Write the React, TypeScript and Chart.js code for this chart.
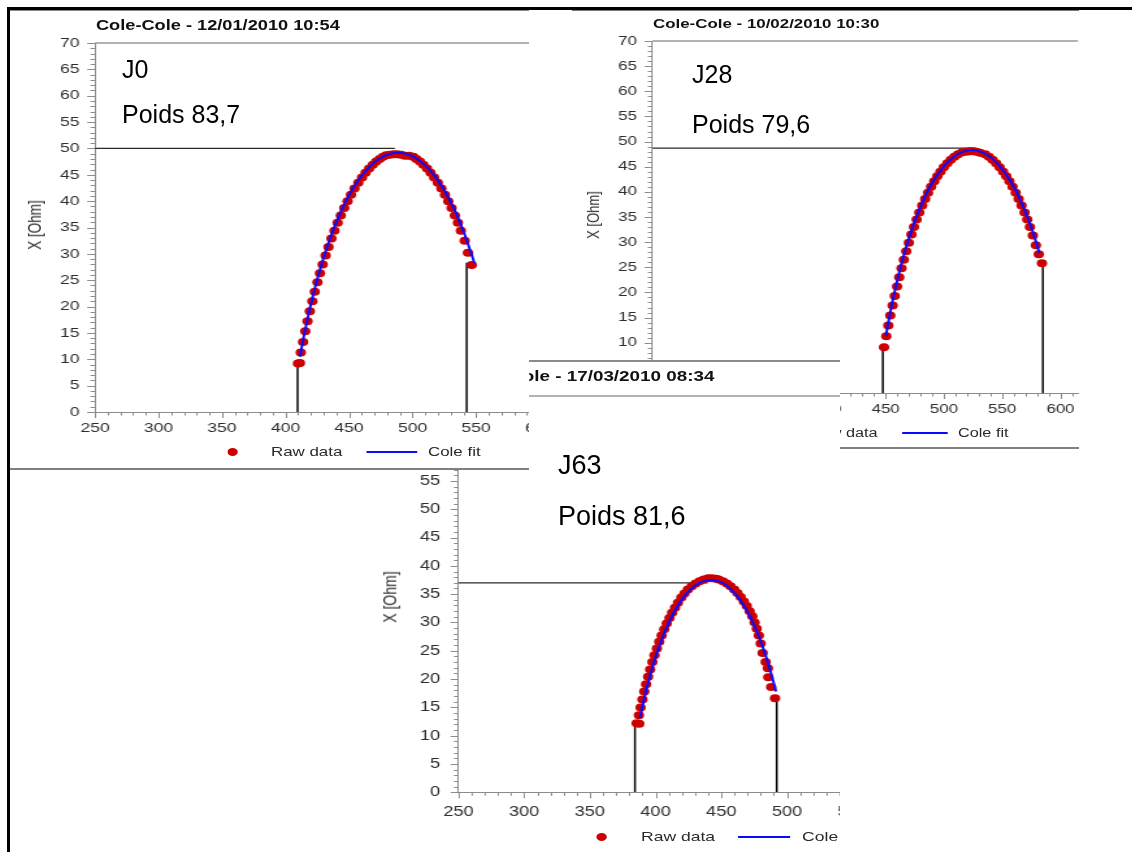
import React, { useEffect, useRef } from "react";
import { Chart, registerables } from "chart.js";

Chart.register(...registerables);

// ---------- shared axis settings ----------
const STRETCH = 1.3; // the screenshots are stretched horizontally
const FONT = "'Liberation Sans', Arial, Helvetica, sans-serif";
const X_MIN = 250;
const X_MAX = 615;
const Y_MIN = 0;
const Y_MAX = 70;
const X_MINOR = 10;
const Y_MINOR = 1;
const xTickLabels = [250, 300, 350, 400, 450, 500, 550, 600];
const yTickLabels = [0, 5, 10, 15, 20, 25, 30, 35, 40, 45, 50, 55, 60, 65, 70];
const seriesNames = ["Raw data", "Cole fit"];

// ---------- J0 : 12/01/2010 ----------
const j0RawR = [409.8, 411.3, 412.0, 413.8, 415.5, 417.3, 419.1, 421.1, 423.0, 425.1, 427.1, 429.2, 431.5, 433.8, 436.1, 438.5, 441.0, 443.5, 446.2, 448.8, 451.5, 454.3, 457.3, 460.2, 463.0, 465.8, 468.7, 471.4, 474.1, 476.7, 479.2, 482.0, 485.0, 488.0, 491.0, 494.0, 497.3, 500.5, 503.0, 505.8, 508.5, 511.4, 514.2, 517.0, 519.9, 522.7, 525.5, 528.1, 530.7, 533.3, 535.7, 538.0, 541.0, 543.6, 546.6];
const j0RawX = [9.2, 9.3, 11.3, 13.3, 15.3, 17.2, 19.1, 21.0, 22.8, 24.6, 26.3, 28.0, 29.7, 31.3, 32.9, 34.4, 35.9, 37.3, 38.7, 40.0, 41.2, 42.4, 43.5, 44.5, 45.4, 46.2, 46.9, 47.5, 48.0, 48.4, 48.7, 48.8, 48.9, 48.9, 48.8, 48.6, 48.6, 48.4, 48.0, 47.5, 46.9, 46.2, 45.4, 44.5, 43.5, 42.4, 41.2, 40.0, 38.7, 37.3, 35.9, 34.4, 32.5, 30.2, 27.9];
const j0FitR = [411.4, 414.1, 417.6, 421.5, 425.9, 430.9, 436.7, 443.5, 449.7, 457.4, 464.0, 470.6, 477.0, 482.4, 488.6, 494.8, 500.2, 506.6, 513.2, 519.8, 527.5, 533.7, 540.5, 546.3, 548.7];
const j0FitX = [10.5, 14, 18, 22, 26, 30, 34, 38, 41, 44, 46, 47.5, 48.5, 49.0, 49.2, 49.0, 48.5, 47.5, 46, 44, 41, 38, 34, 30, 28.2];
const j0MarkR = [409.5, 542.6];
const j0MarkX = [9.3, 28.3];
const j0PeakX = 50;
const j0PeakREnd = 486;

// ---------- J28 : 10/02/2010 ----------
const j28RawR = [448.6, 450.6, 452.3, 454.0, 456.0, 457.8, 459.8, 461.7, 463.6, 465.6, 467.7, 469.9, 472.1, 474.3, 476.6, 478.9, 481.4, 483.9, 486.4, 489.0, 491.7, 494.3, 497.0, 499.9, 502.9, 505.9, 509.0, 512.2, 515.6, 519.0, 522.0, 525.0, 528.0, 531.0, 535.4, 538.6, 541.7, 544.8, 547.8, 550.8, 553.5, 556.2, 558.9, 561.6, 564.1, 566.6, 569.2, 571.5, 573.8, 576.3, 578.9, 581.4, 584.1];
const j28RawX = [9.1, 11.3, 13.4, 15.4, 17.4, 19.3, 21.2, 23.0, 24.8, 26.5, 28.2, 29.9, 31.5, 33.0, 34.5, 35.9, 37.3, 38.6, 39.8, 41.0, 42.1, 43.1, 44.0, 44.9, 45.7, 46.4, 47.0, 47.5, 47.9, 48.0, 48.1, 48.1, 48.0, 47.8, 47.5, 47.0, 46.4, 45.7, 44.9, 44.0, 43.1, 42.1, 41.0, 39.8, 38.6, 37.3, 35.9, 34.5, 33.0, 31.3, 29.4, 27.6, 25.8];
const j28FitR = [450.2, 453.1, 456.6, 460.6, 465.1, 470.3, 476.3, 483.7, 490.5, 499.6, 508.6, 516.6, 524.0, 531.4, 539.4, 548.4, 557.5, 564.3, 571.7, 577.7, 581.9];
const j28FitX = [11.3, 15, 19, 23, 27, 31, 35, 39, 42, 45, 47, 48, 48.3, 48, 47, 45, 42, 39, 35, 31, 27.8];
const j28MarkR = [447.6, 584.9];
const j28MarkX = [9.1, 25.8];
const j28PeakX = 48.7;
const j28PeakREnd = 527;

// ---------- J63 : 17/03/2010 ----------
const j63RawR = [385.6, 387.6, 387.3, 388.6, 390.0, 391.4, 392.8, 394.3, 395.9, 397.6, 399.2, 401.0, 402.8, 404.6, 406.6, 408.5, 410.6, 412.6, 414.8, 417.0, 419.6, 422.0, 424.6, 427.5, 430.5, 433.5, 436.7, 440.0, 443.0, 446.0, 448.0, 451.2, 454.2, 457.0, 459.8, 462.3, 464.8, 467.2, 469.4, 471.6, 473.6, 475.4, 477.0, 478.6, 480.0, 481.5, 483.8, 485.5, 485.8, 488.0, 490.9];
const j63RawX = [12.2, 12.1, 13.6, 15.0, 16.4, 17.8, 19.1, 20.4, 21.7, 23.0, 24.2, 25.4, 26.6, 27.7, 28.8, 29.8, 30.8, 31.7, 32.6, 33.5, 34.4, 35.1, 35.8, 36.4, 36.9, 37.3, 37.6, 37.8, 37.8, 37.7, 37.6, 37.3, 36.9, 36.4, 35.8, 35.2, 34.5, 33.7, 32.9, 32.0, 31.1, 30.0, 28.9, 27.7, 26.3, 24.6, 23.0, 21.9, 20.3, 18.6, 16.6];
const j63FitR = [388.1, 390.8, 393.9, 397.5, 401.6, 406.4, 412.2, 417.0, 423.3, 430.1, 435.5, 442.1, 448.7, 454.1, 460.9, 467.2, 472.0, 477.9, 482.6, 486.7, 489.7, 491.6];
const j63FitX = [13.1, 16, 19, 22, 25, 28, 31, 33, 35, 36.5, 37.2, 37.5, 37.2, 36.5, 35, 33, 31, 28, 25, 22, 19.5, 17.8];
const j63MarkR = [384.3, 492.2];
const j63MarkX = [12.0, 16.3];
const j63PeakX = 37.0;
const j63PeakREnd = 439.5;

const toPts = (r: number[], x: number[]) => r.map((v, i) => ({ x: v, y: x[i] }));

const minorTicks = {
  id: "minorTicks",
  afterDatasetsDraw(chart: any) {
    const { ctx, chartArea: a, scales } = chart;
    const xs = scales.x;
    const ys = scales.y;
    ctx.save();
    ctx.strokeStyle = "#8c8c8c";
    ctx.lineWidth = 1;
    ctx.beginPath();
    for (let v = Y_MIN; v <= Y_MAX + 1e-6; v += Y_MINOR) {
      const p = Math.round(ys.getPixelForValue(v)) + 0.5;
      const len = yTickLabels.includes(v) ? 6 : 3.5;
      ctx.moveTo(a.left, p);
      ctx.lineTo(a.left - len, p);
    }
    for (let v = X_MIN; v <= X_MAX + 1e-6; v += X_MINOR) {
      const p = Math.round(xs.getPixelForValue(v)) + 0.5;
      const len = xTickLabels.includes(v) ? 6 : 3.5;
      ctx.moveTo(p, a.bottom);
      ctx.lineTo(p, a.bottom + len);
    }
    ctx.stroke();
    ctx.strokeStyle = "#9a9a9a";
    ctx.lineWidth = 1.5;
    ctx.beginPath();
    ctx.moveTo(a.left, a.top);
    ctx.lineTo(a.right, a.top);
    ctx.stroke();
    ctx.restore();
  },
};

interface Spec {
  left: number; top: number; width: number; height: number; z: number;
  canvasW: number; canvasH: number;
  padTop: number; padRight: number; yAxisW: number; xAxisH: number;
  tickFont: number; yPad: number; xPad: number;
  title: string; titleFont: number; titleX: number; titleY: number;
  yTitleX: number; yTitleY: number; yTitleFont: number;
  legendY: number; legendDotX: number; legendRawX: number; legendLine: [number, number]; legendFitX: number; legendFont: number;
  notes: [string, string]; noteLeft: number; noteTops: [number, number]; noteFont: number;
  borders: { y: number; h: number; color: string }[];
  rawR: number[]; rawX: number[]; fitR: number[]; fitX: number[];
  markR: number[]; markX: number[]; peakX: number; peakREnd: number;
}

function buildConfig(s: Spec): any {
  const line = (data: any[], color: string, w: number, order: number) => ({
    label: "",
    data,
    showLine: true,
    borderColor: color,
    backgroundColor: color,
    borderWidth: w,
    pointRadius: 0,
    order,
  });
  return {
    type: "scatter",
    data: {
      datasets: [
        {
          label: seriesNames[1],
          data: toPts(s.fitR, s.fitX),
          showLine: true,
          borderColor: "#0a0aff",
          borderWidth: 2,
          pointRadius: 0,
          tension: 0.3,
          order: 0,
        },
        {
          label: seriesNames[0],
          data: toPts(s.rawR, s.rawX),
          backgroundColor: "#cc0000",
          borderColor: "#cc0000",
          borderWidth: 0,
          pointRadius: 4,
          pointStyle: "circle",
          order: 1,
        },
        line([{ x: s.markR[0], y: Y_MIN }, { x: s.markR[0], y: s.markX[0] }], "#000000", 1.5, 2),
        line([{ x: s.markR[1], y: Y_MIN }, { x: s.markR[1], y: s.markX[1] }], "#000000", 1.5, 2),
        line([{ x: X_MIN, y: s.peakX }, { x: s.peakREnd, y: s.peakX }], "#2a2a2a", 1.3, 2),
      ],
    },
    options: {
      animation: false,
      responsive: false,
      maintainAspectRatio: false,
      events: [],
      layout: { padding: { left: 0, top: s.padTop, right: s.padRight, bottom: 0 } },
      plugins: { legend: { display: false }, title: { display: false }, tooltip: { enabled: false } },
      scales: {
        x: {
          type: "linear",
          min: X_MIN,
          max: X_MAX,
          afterFit: (sc: any) => { sc.height = s.xAxisH; },
          afterBuildTicks: (sc: any) => { sc.ticks = xTickLabels.map((v) => ({ value: v })); },
          grid: { display: false, drawTicks: false, tickLength: 0 },
          border: { display: true, color: "#8c8c8c", width: 1 },
          ticks: {
            autoSkip: false,
            maxRotation: 0,
            padding: s.xPad,
            color: "#2e2e2e",
            font: { family: FONT, size: s.tickFont },
            callback: (v: number) => String(v),
          },
        },
        y: {
          type: "linear",
          min: Y_MIN,
          max: Y_MAX,
          afterFit: (sc: any) => { sc.width = s.yAxisW; },
          afterBuildTicks: (sc: any) => { sc.ticks = yTickLabels.map((v) => ({ value: v })); },
          grid: { display: false, drawTicks: false, tickLength: 0 },
          border: { display: true, color: "#8c8c8c", width: 1 },
          ticks: {
            autoSkip: false,
            padding: s.yPad,
            color: "#2e2e2e",
            font: { family: FONT, size: s.tickFont },
            callback: (v: number) => String(v),
          },
        },
      },
    },
    plugins: [minorTicks],
  };
}

function Panel({ s }: { s: Spec }) {
  const ref = useRef<HTMLCanvasElement>(null);
  useEffect(() => {
    const chart = new Chart(ref.current as HTMLCanvasElement, buildConfig(s));
    return () => chart.destroy();
  }, []);
  const cw = Math.round(s.canvasW);
  const ch = Math.round(s.canvasH);
  const text = (t: string, left: number, cy: number, size: number, extra: any = {}) => (
    <div
      style={{
        position: "absolute", left, top: cy - size * 0.6, fontSize: size,
        lineHeight: `${size * 1.2}px`, fontFamily: FONT, whiteSpace: "nowrap", color: "#2a2a2a", ...extra,
      }}
    >
      {t}
    </div>
  );
  return (
    <div
      style={{
        position: "absolute", left: s.left, top: s.top, width: s.width, height: s.height,
        overflow: "hidden", background: "#fff", zIndex: s.z,
      }}
    >
      <div
        style={{
          position: "absolute", left: 0, top: 0, width: cw, height: s.height,
          transform: `scaleX(${STRETCH})`, transformOrigin: "0 0",
        }}
      >
        <canvas ref={ref} width={cw} height={ch} style={{ position: "absolute", left: 0, top: 0, width: cw, height: ch, display: "block" }} />
        {text(s.title, s.titleX, s.titleY, s.titleFont, { fontWeight: "bold", color: "#111" })}
        <div
          style={{
            position: "absolute", left: s.yTitleX, top: s.yTitleY, fontSize: s.yTitleFont, fontFamily: FONT,
            whiteSpace: "nowrap", color: "#2a2a2a", lineHeight: 1,
            transform: "translate(-50%, -50%) rotate(-90deg)",
          }}
        >
          X [Ohm]
        </div>
        <div
          style={{
            position: "absolute", left: s.legendDotX - 4, top: s.legendY - 4, width: 8, height: 8,
            borderRadius: "50%", background: "#cc0000",
          }}
        />
        {text(seriesNames[0], s.legendRawX, s.legendY, s.legendFont)}
        <div
          style={{
            position: "absolute", left: s.legendLine[0], top: s.legendY - 1,
            width: s.legendLine[1] - s.legendLine[0], height: 2, background: "#0a0aff",
          }}
        />
        {text(seriesNames[1], s.legendFitX, s.legendY, s.legendFont)}
      </div>
      {s.notes.map((n, i) => (
        <div
          key={i}
          style={{
            position: "absolute", left: s.noteLeft, top: s.noteTops[i], fontSize: s.noteFont,
            lineHeight: `${s.noteFont}px`, fontFamily: FONT, color: "#000", whiteSpace: "nowrap",
          }}
        >
          {n}
        </div>
      ))}
      {s.borders.map((b, i) => (
        <div key={"b" + i} style={{ position: "absolute", left: 0, top: b.y, width: s.width, height: b.h, background: b.color }} />
      ))}
    </div>
  );
}

const panelA: Spec = {
  left: 9, top: 9, width: 520, height: 461, z: 3,
  canvasW: 430, canvasH: 461,
  padTop: 34, padRight: 7.2, yAxisW: 66.15, xAxisH: 58,
  tickFont: 13.5, yPad: 12, xPad: 8,
  title: "Cole-Cole - 12/01/2010 10:54", titleFont: 14, titleX: 66.9, titleY: 16,
  yTitleX: 19.5, yTitleY: 216, yTitleFont: 13.5,
  legendY: 443, legendDotX: 172.3, legendRawX: 201.5, legendLine: [274.6, 313.8], legendFitX: 322.3, legendFont: 13,
  notes: ["J0", "Poids 83,7"], noteLeft: 113, noteTops: [47.5, 92.8], noteFont: 25,
  borders: [{ y: 1, h: 1, color: "#8a8a8a" }, { y: 459, h: 2, color: "#808080" }],
  rawR: j0RawR, rawX: j0RawX, fitR: j0FitR, fitX: j0FitX,
  markR: j0MarkR, markX: j0MarkX, peakX: j0PeakX, peakREnd: j0PeakREnd,
};

const panelB: Spec = {
  left: 572, top: 9, width: 507, height: 440, z: 1,
  canvasW: 396, canvasH: 440,
  padTop: 32, padRight: 6.8, yAxisW: 61.9, xAxisH: 56,
  tickFont: 13, yPad: 12, xPad: 9,
  title: "Cole-Cole - 10/02/2010 10:30", titleFont: 13, titleX: 62.3, titleY: 15,
  yTitleX: 16.2, yTitleY: 206, yTitleFont: 13,
  legendY: 424, legendDotX: 155.4, legendRawX: 182.3, legendLine: [253.8, 289.2], legendFitX: 296.9, legendFont: 12.5,
  notes: ["J28", "Poids 79,6"], noteLeft: 120, noteTops: [53.4, 103.4], noteFont: 25,
  borders: [{ y: 1, h: 1, color: "#777" }, { y: 438, h: 1.5, color: "#808080" }],
  rawR: j28RawR, rawX: j28RawX, fitR: j28FitR, fitX: j28FitX,
  markR: j28MarkR, markX: j28MarkX, peakX: j28PeakX, peakREnd: j28PeakREnd,
};

const panelC: Spec = {
  left: 300, top: 360, width: 540, height: 492, z: 2,
  canvasW: 500, canvasH: 492,
  padTop: 36, padRight: 9.2, yAxisW: 121.9, xAxisH: 59.7,
  tickFont: 14, yPad: 14, xPad: 11,
  title: "Cole-Cole - 17/03/2010 08:34", titleFont: 14.5, titleX: 124.6, titleY: 17,
  yTitleX: 69.2, yTitleY: 237, yTitleFont: 14,
  legendY: 477, legendDotX: 232.3, legendRawX: 262.3, legendLine: [336.9, 376.9], legendFitX: 386.2, legendFont: 13.5,
  notes: ["J63", "Poids 81,6"], noteLeft: 258, noteTops: [92.1, 142.8], noteFont: 27,
  borders: [{ y: 0, h: 2, color: "#8a8a8a" }],
  rawR: j63RawR, rawX: j63RawX, fitR: j63FitR, fitX: j63FitX,
  markR: j63MarkR, markX: j63MarkX, peakX: j63PeakX, peakREnd: j63PeakREnd,
};

export default function App() {
  return (
    <div style={{ position: "fixed", left: 0, top: 0, width: 1132, height: 852, overflow: "hidden", background: "#fff" }}>
      <Panel s={panelB} />
      <Panel s={panelC} />
      <Panel s={panelA} />
      <div style={{ position: "absolute", left: 7, top: 7, width: 1125, height: 3, background: "#000", zIndex: 10 }} />
      <div style={{ position: "absolute", left: 7, top: 7, width: 3, height: 845, background: "#000", zIndex: 10 }} />
    </div>
  );
}
